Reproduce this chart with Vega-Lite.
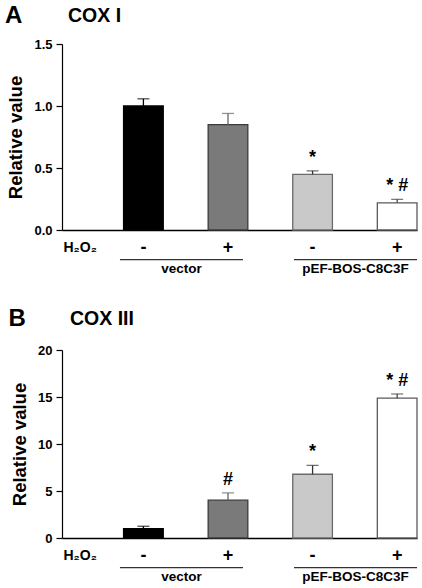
{
  "$schema": "https://vega.github.io/schema/vega-lite/v6.json",
  "padding": {"left": 4, "top": 3, "right": 0, "bottom": 0},
  "config": {
    "font": "Liberation Sans",
    "view": {"stroke": null},
    "title": {"font": "Liberation Sans", "fontWeight": "bold", "color": "black"},
    "axisY": {
      "labelFont": "Liberation Sans", "labelFontSize": 13, "labelFontWeight": "bold", "labelColor": "black",
      "titleFont": "Liberation Sans", "titleFontSize": 18.5, "titleFontWeight": "bold", "titleColor": "black",
      "tickSize": 6, "tickColor": "black", "tickWidth": 1.2, "labelPadding": 4, "titlePadding": 8,
      "domainColor": "black", "domainWidth": 1.2, "grid": false
    },
    "text": {"font": "Liberation Sans", "fontWeight": "bold", "color": "black"}
  },
  "datasets": {
    "coxI": [
      {"cond": "V-", "h2o2": "-", "value": 1.0, "upper": 1.058, "note": ""},
      {"cond": "V+", "h2o2": "+", "value": 0.849, "upper": 0.94, "note": ""},
      {"cond": "P-", "h2o2": "-", "value": 0.448, "upper": 0.477, "note": "*"},
      {"cond": "P+", "h2o2": "+", "value": 0.219, "upper": 0.247, "note": "* #"}
    ],
    "coxIII": [
      {"cond": "V-", "h2o2": "-", "value": 1.0, "upper": 1.25, "note": ""},
      {"cond": "V+", "h2o2": "+", "value": 4.02, "upper": 4.8, "note": "#"},
      {"cond": "P-", "h2o2": "-", "value": 6.78, "upper": 7.72, "note": "*"},
      {"cond": "P+", "h2o2": "+", "value": 14.88, "upper": 15.32, "note": "* #"}
    ],
    "groups": [
      {"group": "vector"},
      {"group": "pEF-BOS-C8C3F"}
    ],
    "h2o2label": [{"label": "H₂O₂"}]
  },
  "spacing": 25,
  "vconcat": [
    {
      "title": {"text": "A", "anchor": "start", "frame": "bounds", "fontSize": 24, "offset": -22, "dx": -2},
      "spacing": 0,
      "vconcat": [
        {
          "width": 355, "height": 186,
          "title": {"text": "COX I", "anchor": "start", "frame": "group", "dx": 6, "fontSize": 19.5, "offset": 12},
          "data": {"name": "coxI"},
          "encoding": {
            "x": {"field": "cond", "type": "nominal", "sort": null,
              "scale": {"type": "band", "domain": ["V-", "V+", "P-", "P+"], "paddingInner": 0.531, "paddingOuter": 0.364, "align": 1},
              "axis": {"labels": false, "ticks": false, "title": null, "domainColor": "black", "domainWidth": 1.3}}
          },
          "layer": [
            {
              "mark": {"type": "bar", "strokeWidth": 1.3},
              "encoding": {
                "y": {"field": "value", "type": "quantitative", "scale": {"domain": [0, 1.5], "nice": false},
                  "axis": {"title": "Relative value", "values": [0, 0.5, 1, 1.5], "format": ".1f"}},
                "fill": {"field": "cond", "type": "nominal", "legend": null,
                  "scale": {"domain": ["V-", "V+", "P-", "P+"], "range": ["#000000", "#7a7a7a", "#c9c9c9", "#ffffff"]}},
                "stroke": {"field": "cond", "type": "nominal", "legend": null,
                  "scale": {"domain": ["V-", "V+", "P-", "P+"], "range": ["#000000", "#3a3a3a", "#6a6a6a", "#5a5a5a"]}}
              }
            },
            {
              "mark": {"type": "rule", "strokeWidth": 1.3},
              "encoding": {
                "y": {"field": "value", "type": "quantitative"},
                "y2": {"field": "upper"},
                "color": {"field": "cond", "type": "nominal", "legend": null,
                  "scale": {"domain": ["V-", "V+", "P-", "P+"], "range": ["#000000", "#666666", "#333333", "#444444"]}}
              }
            },
            {
              "mark": {"type": "tick", "thickness": 1.3, "size": 12},
              "encoding": {
                "y": {"field": "upper", "type": "quantitative"},
                "color": {"field": "cond", "type": "nominal", "legend": null}
              }
            },
            {
              "mark": {"type": "text", "fontSize": 18, "baseline": "alphabetic", "dy": -8},
              "encoding": {
                "y": {"field": "upper", "type": "quantitative"},
                "text": {"field": "note"}
              }
            }
          ]
        },
        {
          "width": 355, "height": 44,
          "resolve": {"scale": {"x": "independent"}},
          "layer": [
            {
              "layer": [
                {
                  "data": {"name": "coxI"},
                  "mark": {"type": "text", "fontSize": 18},
                  "encoding": {
                    "x": {"field": "cond", "type": "nominal", "sort": null,
                      "scale": {"type": "band", "domain": ["V-", "V+", "P-", "P+"], "paddingInner": 0.531, "paddingOuter": 0.364, "align": 1}, "axis": null},
                    "y": {"datum": 1, "type": "quantitative", "scale": {"domain": [0.55, 3.45], "reverse": true}, "axis": null},
                    "text": {"field": "h2o2"}
                  }
                },
                {
                  "data": {"name": "h2o2label"},
                  "mark": {"type": "text", "fontSize": 14, "align": "left", "dx": -80},
                  "encoding": {
                    "x": {"datum": "V-", "type": "nominal", "axis": null},
                    "y": {"datum": 1, "type": "quantitative", "axis": null},
                    "text": {"field": "label"}
                  }
                }
              ]
            },
            {
              "data": {"name": "groups"},
              "layer": [
                {
                  "mark": {"type": "rect", "stroke": "#333333", "strokeWidth": 1.3, "fill": null},
                  "encoding": {
                    "x": {"field": "group", "type": "nominal", "sort": null,
                      "scale": {"type": "band", "domain": ["vector", "pEF-BOS-C8C3F"], "paddingInner": 0.293, "paddingOuter": 0.1665, "align": 1}, "axis": null},
                    "y": {"datum": 2.05, "type": "quantitative", "axis": null},
                    "y2": {"datum": 2.05}
                  }
                },
                {
                  "mark": {"type": "text", "fontSize": 13.5},
                  "encoding": {
                    "x": {"field": "group", "type": "nominal", "sort": null, "axis": null},
                    "y": {"datum": 2.9, "type": "quantitative", "axis": null},
                    "text": {"field": "group"}
                  }
                }
              ]
            }
          ]
        }
      ]
    },
    {
      "title": {"text": "B", "anchor": "start", "frame": "bounds", "fontSize": 24, "offset": -22, "dx": -2},
      "spacing": 0,
      "vconcat": [
        {
          "width": 355, "height": 188,
          "title": {"text": "COX III", "anchor": "start", "frame": "group", "dx": 8, "fontSize": 19.5, "offset": 15},
          "data": {"name": "coxIII"},
          "encoding": {
            "x": {"field": "cond", "type": "nominal", "sort": null,
              "scale": {"type": "band", "domain": ["V-", "V+", "P-", "P+"], "paddingInner": 0.531, "paddingOuter": 0.364, "align": 1},
              "axis": {"labels": false, "ticks": false, "title": null, "domainColor": "black", "domainWidth": 1.3}}
          },
          "layer": [
            {
              "mark": {"type": "bar", "strokeWidth": 1.3},
              "encoding": {
                "y": {"field": "value", "type": "quantitative", "scale": {"domain": [0, 20], "nice": false},
                  "axis": {"title": "Relative value", "values": [0, 5, 10, 15, 20]}},
                "fill": {"field": "cond", "type": "nominal", "legend": null,
                  "scale": {"domain": ["V-", "V+", "P-", "P+"], "range": ["#000000", "#7a7a7a", "#c9c9c9", "#ffffff"]}},
                "stroke": {"field": "cond", "type": "nominal", "legend": null,
                  "scale": {"domain": ["V-", "V+", "P-", "P+"], "range": ["#000000", "#3a3a3a", "#6a6a6a", "#5a5a5a"]}}
              }
            },
            {
              "mark": {"type": "rule", "strokeWidth": 1.3},
              "encoding": {
                "y": {"field": "value", "type": "quantitative"},
                "y2": {"field": "upper"},
                "color": {"field": "cond", "type": "nominal", "legend": null,
                  "scale": {"domain": ["V-", "V+", "P-", "P+"], "range": ["#000000", "#444444", "#333333", "#444444"]}}
              }
            },
            {
              "mark": {"type": "tick", "thickness": 1.3, "size": 12},
              "encoding": {
                "y": {"field": "upper", "type": "quantitative"},
                "color": {"field": "cond", "type": "nominal", "legend": null}
              }
            },
            {
              "mark": {"type": "text", "fontSize": 18, "baseline": "alphabetic", "dy": -8},
              "encoding": {
                "y": {"field": "upper", "type": "quantitative"},
                "text": {"field": "note"}
              }
            }
          ]
        },
        {
          "width": 355, "height": 44,
          "resolve": {"scale": {"x": "independent"}},
          "layer": [
            {
              "layer": [
                {
                  "data": {"name": "coxIII"},
                  "mark": {"type": "text", "fontSize": 18},
                  "encoding": {
                    "x": {"field": "cond", "type": "nominal", "sort": null,
                      "scale": {"type": "band", "domain": ["V-", "V+", "P-", "P+"], "paddingInner": 0.531, "paddingOuter": 0.364, "align": 1}, "axis": null},
                    "y": {"datum": 1, "type": "quantitative", "scale": {"domain": [0.55, 3.45], "reverse": true}, "axis": null},
                    "text": {"field": "h2o2"}
                  }
                },
                {
                  "data": {"name": "h2o2label"},
                  "mark": {"type": "text", "fontSize": 14, "align": "left", "dx": -80},
                  "encoding": {
                    "x": {"datum": "V-", "type": "nominal", "axis": null},
                    "y": {"datum": 1, "type": "quantitative", "axis": null},
                    "text": {"field": "label"}
                  }
                }
              ]
            },
            {
              "data": {"name": "groups"},
              "layer": [
                {
                  "mark": {"type": "rect", "stroke": "#333333", "strokeWidth": 1.3, "fill": null},
                  "encoding": {
                    "x": {"field": "group", "type": "nominal", "sort": null,
                      "scale": {"type": "band", "domain": ["vector", "pEF-BOS-C8C3F"], "paddingInner": 0.293, "paddingOuter": 0.1665, "align": 1}, "axis": null},
                    "y": {"datum": 2.05, "type": "quantitative", "axis": null},
                    "y2": {"datum": 2.05}
                  }
                },
                {
                  "mark": {"type": "text", "fontSize": 13.5},
                  "encoding": {
                    "x": {"field": "group", "type": "nominal", "sort": null, "axis": null},
                    "y": {"datum": 2.9, "type": "quantitative", "axis": null},
                    "text": {"field": "group"}
                  }
                }
              ]
            }
          ]
        }
      ]
    }
  ]
}
